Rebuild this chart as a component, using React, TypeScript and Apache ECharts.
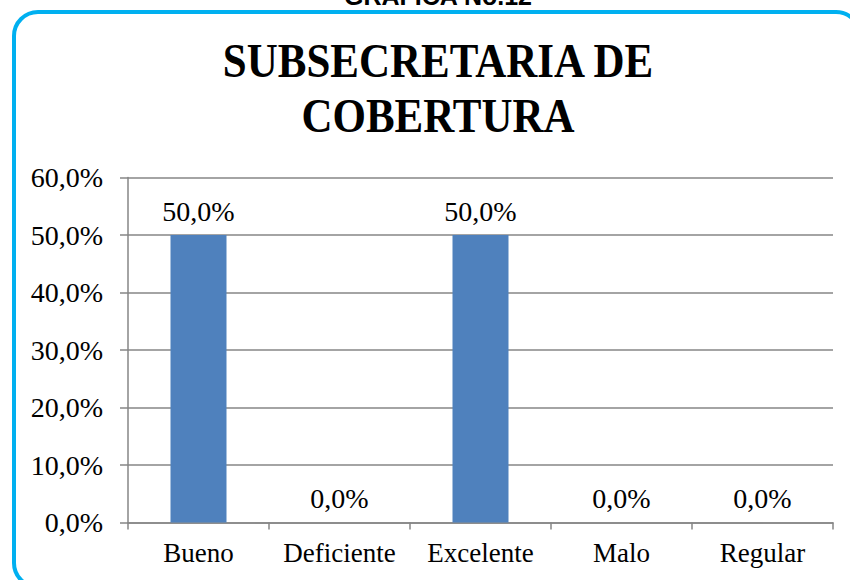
import React, { useEffect, useRef } from "react";
import * as echarts from "echarts";

const categories = ["Bueno", "Deficiente", "Excelente", "Malo", "Regular"];
const values = [50, 0, 50, 0, 0];
const chartTitle = "SUBSECRETARIA DE\nCOBERTURA";
const topCaption = "GRAFICA No.12";

const fmt = (v: number) => v.toFixed(1).replace(".", ",") + "%";

export default function App() {
  const ref = useRef<HTMLDivElement>(null);
  useEffect(() => {
    if (!ref.current) return;
    const chart = echarts.init(ref.current, null, { renderer: "svg" });
    const serif = "Liberation Serif";
    chart.setOption({
      animation: false,
      backgroundColor: "#ffffff",
      graphic: [
        {
          type: "rect",
          shape: { x: 14, y: 12, width: 846, height: 575, r: 24 },
          style: { fill: "none", stroke: "#00B0F0", lineWidth: 4 },
          z: 10,
        },
        {
          type: "text",
          x: 438,
          y: -4,
          style: {
            text: topCaption,
            font: "bold 25px 'Liberation Sans'",
            fill: "#000",
            align: "center",
            verticalAlign: "middle",
          },
          z: 11,
        },
        {
          type: "text",
          x: 438,
          y: 88,
          scaleY: 1.15,
          originX: 0,
          originY: 0,
          style: {
            text: chartTitle,
            font: "bold 43px 'Liberation Serif'",
            fill: "#000",
            align: "center",
            verticalAlign: "middle",
            lineHeight: 48,
          },
        },
      ],
      grid: { left: 128, right: 17, top: 177.5, bottom: 57.5, containLabel: false },
      xAxis: {
        type: "category",
        data: categories,
        axisLine: { show: true, lineStyle: { color: "#868686", width: 1.5 } },
        axisTick: { show: true, alignWithLabel: false, length: 7, lineStyle: { color: "#868686", width: 1.5 } },
        axisLabel: { color: "#000", fontFamily: serif, fontSize: 27, margin: 17, interval: 0, hideOverlap: false },
        splitLine: { show: false },
      },
      yAxis: {
        type: "value",
        min: 0,
        max: 60,
        interval: 10,
        axisLine: { show: true, lineStyle: { color: "#868686", width: 1.5 } },
        axisTick: { show: true, length: 8, lineStyle: { color: "#868686", width: 1.5 } },
        axisLabel: {
          color: "#000",
          fontFamily: serif,
          fontSize: 28,
          margin: 25,
          formatter: (v: number) => fmt(v),
        },
        splitLine: { show: true, lineStyle: { color: "#868686", width: 1.5 } },
      },
      series: [
        {
          type: "bar",
          data: values,
          barWidth: 56,
          itemStyle: { color: "#4F81BD" },
          label: {
            show: true,
            position: "top",
            distance: 10,
            color: "#000",
            fontFamily: serif,
            fontSize: 28,
            formatter: (p: any) => fmt(p.value),
          },
        },
      ],
    });
    return () => chart.dispose();
  }, []);
  return <div ref={ref} style={{ width: 850, height: 580, position: "absolute", left: 0, top: 0 }} />;
}
